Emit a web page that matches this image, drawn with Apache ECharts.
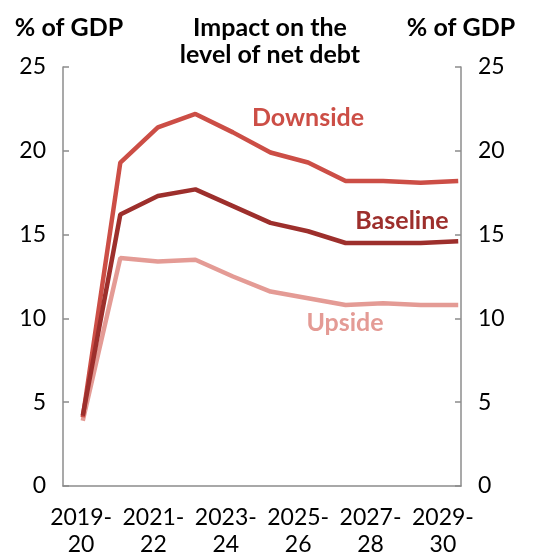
<!DOCTYPE html>
<html lang="en">
<head>
    <meta charset="UTF-8">
    <title>Impact on the level of net debt</title>
</head>
<style>
    html, body{
        margin: 0;
        padding: 0;
        background-color: #fff;
    }
    .main{
        width: 540px;
        height: 558px;
    }
</style>
<body>
<div id="main" class="main"></div>
<script src="https://cdn.jsdelivr.net/npm/echarts@6/dist/echarts.min.js"></script>
<script>
    var years = ['2019-\n20', '2020-\n21', '2021-\n22', '2022-\n23', '2023-\n24', '2024-\n25',
        '2025-\n26', '2026-\n27', '2027-\n28', '2028-\n29', '2029-\n30'];
    var downside = [4.1, 19.3, 21.4, 22.2, 21.1, 19.9, 19.3, 18.2, 18.2, 18.1, 18.2];
    var baseline = [4.2, 16.2, 17.3, 17.7, 16.7, 15.7, 15.2, 14.5, 14.5, 14.5, 14.6];
    var upside = [3.9, 13.6, 13.4, 13.5, 12.5, 11.6, 11.2, 10.8, 10.9, 10.8, 10.8];

    var font = 'Lato';
    var axisGrey = '#8c8c8c';
    var cDown = '#cc4e46';
    var cBase = '#9d2f2c';
    var cUp = '#e49b95';
    var boldSize = 25;
    var tickSize = 23;

    var app = echarts.init(document.getElementById('main'));

    function yAx(gridIndex, pos, showLabel) {
        return {
            type: 'value',
            gridIndex: gridIndex,
            position: pos,
            min: 0,
            max: 25,
            interval: 5,
            splitLine: {show: false},
            axisLine: {show: showLabel, lineStyle: {color: axisGrey, width: 1.5}},
            axisTick: {show: showLabel, inside: true, length: 6, lineStyle: {color: axisGrey, width: 1.5}},
            axisLabel: {
                show: showLabel,
                color: '#000',
                fontFamily: font,
                fontSize: tickSize,
                margin: 17
            }
        };
    }

    function label(txt, x, y, color) {
        return {type: 'text', x: x, y: y, style: {
            text: txt, fontFamily: font, fontWeight: 'bold', fontSize: boldSize, fill: color,
            align: 'center', verticalAlign: 'middle'}};
    }

    var option = {
        animation: false,
        grid: [
            {left: 63, right: 79, top: 67, bottom: 72},
            {left: 64, right: 63, top: 67, bottom: 72}
        ],
        xAxis: [
            {
                type: 'category',
                gridIndex: 0,
                data: years,
                boundaryGap: true,
                axisLine: {lineStyle: {color: axisGrey, width: 1.5}},
                axisTick: {inside: true, length: 6, lineStyle: {color: axisGrey, width: 1.5}},
                axisLabel: {
                    interval: 1,
                    color: '#000',
                    fontFamily: font,
                    fontSize: tickSize,
                    lineHeight: 27,
                    margin: 18
                }
            },
            {
                type: 'category',
                gridIndex: 1,
                data: years,
                boundaryGap: true,
                show: false
            }
        ],
        yAxis: [
            yAx(0, 'left', true),
            yAx(0, 'right', true),
            yAx(1, 'left', false)
        ],
        graphic: [
            {type: 'text', x: 270, y: 14, style: {
                text: 'Impact on the\nlevel of net debt', fontFamily: font, fontWeight: 'bold',
                fontSize: boldSize, lineHeight: 27, fill: '#000', align: 'center'}},
            {type: 'text', x: 69, y: 14, style: {
                text: '% of GDP', fontFamily: font, fontWeight: 'bold', fontSize: boldSize,
                lineHeight: 27, fill: '#000', align: 'center'}},
            {type: 'text', x: 461, y: 14, style: {
                text: '% of GDP', fontFamily: font, fontWeight: 'bold', fontSize: boldSize,
                lineHeight: 27, fill: '#000', align: 'center'}},
            label('Downside', 308, 118, cDown),
            label('Baseline', 402, 221, cBase),
            label('Upside', 345, 323, cUp)
        ],
        series: [
            {name: 'Upside', type: 'line', xAxisIndex: 1, yAxisIndex: 2, data: upside,
                showSymbol: false, lineStyle: {color: cUp, width: 4.5}, itemStyle: {color: cUp}},
            {name: 'Downside', type: 'line', xAxisIndex: 1, yAxisIndex: 2, data: downside,
                showSymbol: false, lineStyle: {color: cDown, width: 4.5}, itemStyle: {color: cDown}},
            {name: 'Baseline', type: 'line', xAxisIndex: 1, yAxisIndex: 2, data: baseline,
                showSymbol: false, lineStyle: {color: cBase, width: 4.5}, itemStyle: {color: cBase}}
        ]
    };
    app.setOption(option);
</script>
</body>
</html>
